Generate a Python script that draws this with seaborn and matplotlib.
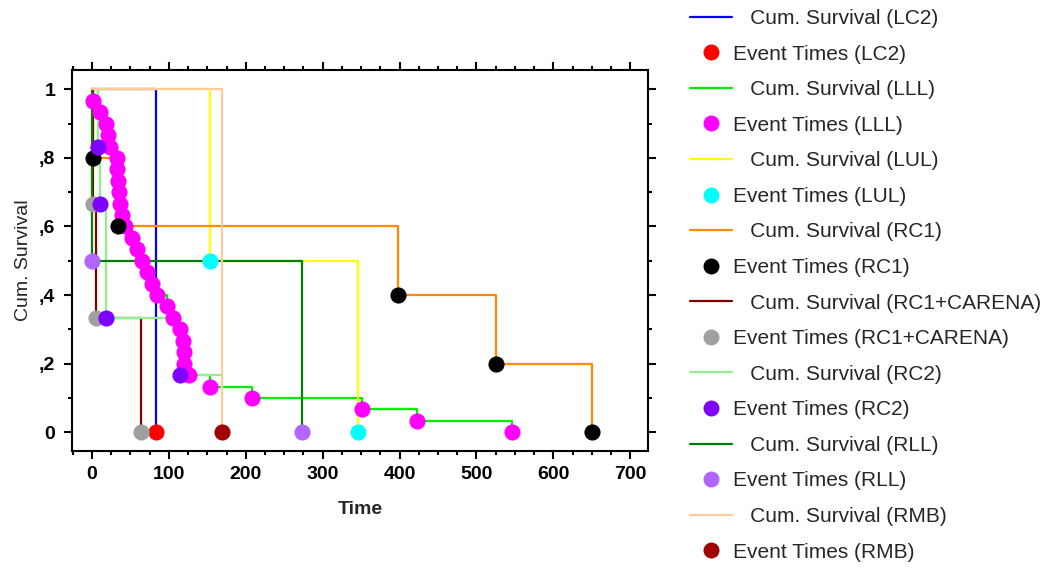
import seaborn as sns
import pandas as pd
from matplotlib import pyplot as plt
from matplotlib.lines import Line2D
from matplotlib.ticker import MultipleLocator, FixedLocator, FixedFormatter

# groups in legend order
groups = ["LC2", "LLL", "LUL", "RC1", "RC1+CARENA", "RC2", "RLL", "RMB"]

# event times and survival after each event
lc2_times = [83]
lc2_surv = [0.0]

lll_times = [2, 11, 18, 21, 24, 33, 33, 34, 35, 37, 39, 43, 52, 58, 65, 72, 78, 84,
             97, 106, 115, 119, 120, 120, 126, 153, 208, 351, 423, 546]
lll_surv = [0.967, 0.933, 0.9, 0.867, 0.833, 0.8, 0.767, 0.733, 0.7, 0.667,
            0.633, 0.6, 0.567, 0.533, 0.5, 0.467, 0.433, 0.4, 0.367, 0.333,
            0.3, 0.267, 0.233, 0.2, 0.167, 0.133, 0.1, 0.067, 0.033, 0.0]

lul_times = [153, 346]
lul_surv = [0.5, 0.0]

rc1_times = [2, 34, 398, 525, 650]
rc1_surv = [0.8, 0.6, 0.4, 0.2, 0.0]

carena_times = [1, 5, 64]
carena_surv = [0.667, 0.333, 0.0]

rc2_times = [8, 10, 18, 115]
rc2_surv = [0.833, 0.667, 0.333, 0.167]
rc2_end = 169  # last case censored

rll_times = [0, 273]
rll_surv = [0.5, 0.0]

rmb_times = [169]
rmb_surv = [0.0]

line_colors = ["#0000FF", "#00EE00", "#FFFF00", "#FF8C00", "#800000", "#90F090", "#008000", "#FFCC99"]
point_colors = ["#FF0000", "#FF00FF", "#00FFFF", "#000000", "#A0A0A0", "#8000FF", "#B066FF", "#A00000"]

y_ticks = [0, 0.2, 0.4, 0.6, 0.8, 1.0]
y_ticklabels = ["0", ",2", ",4", ",6", ",8", "1"]

all_times = [lc2_times, lll_times, lul_times, rc1_times, carena_times, rc2_times, rll_times, rmb_times]
all_surv = [lc2_surv, lll_surv, lul_surv, rc1_surv, carena_surv, rc2_surv, rll_surv, rmb_surv]
end_times = [None, None, None, None, None, rc2_end, None, None]

sns.set_style("ticks")
plt.rcParams["font.family"] = ["Liberation Sans", "DejaVu Sans"]

fig = plt.figure(figsize=(10.46, 5.68), dpi=100)
ax = fig.add_axes([0.0688, 0.206, 0.5507, 0.671])

for g, t, s, end, lc, pc in zip(groups, all_times, all_surv, end_times, line_colors, point_colors):
    xs = [0] + list(t)
    ys = [1.0] + list(s)
    if end is not None:
        xs.append(end)
        ys.append(s[-1])
    steps = pd.DataFrame({"Time": xs, "Survival": ys})
    sns.lineplot(data=steps, x="Time", y="Survival", drawstyle="steps-post", sort=False,
                 estimator=None, color=lc, lw=1.6, ax=ax, legend=False)
    events = pd.DataFrame({"Time": t, "Survival": s})
    sns.scatterplot(data=events, x="Time", y="Survival", color=pc, s=135, linewidth=0,
                    ax=ax, legend=False, zorder=3)

ax.set_xlim(-26, 723)
ax.set_ylim(-0.055, 1.057)
ax.xaxis.set_major_locator(MultipleLocator(100))
ax.xaxis.set_minor_locator(MultipleLocator(25))
ax.yaxis.set_major_locator(FixedLocator(y_ticks))
ax.yaxis.set_major_formatter(FixedFormatter(y_ticklabels))
ax.yaxis.set_minor_locator(MultipleLocator(0.1))
ax.tick_params(which="both", direction="out", top=True, right=True, labeltop=False,
               labelright=False, width=1.5, colors="black")
ax.tick_params(which="major", length=6, labelsize=14)
ax.tick_params(which="minor", length=3)
ax.tick_params(axis="x", which="major", pad=5)
ax.tick_params(axis="y", which="major", pad=6)
for lab in ax.get_xticklabels() + ax.get_yticklabels():
    lab.set_fontweight("bold")
for sp in ax.spines.values():
    sp.set_linewidth(1.5)
    sp.set_color("black")
ax.set_xlabel("Time", fontsize=14, fontweight="bold", labelpad=13)
ax.set_ylabel("Cum. Survival", fontsize=14, labelpad=5)

handles, labels = [], []
for g, lc, pc in zip(groups, line_colors, point_colors):
    handles.append(Line2D([], [], color=lc, lw=1.6))
    labels.append("   Cum. Survival (" + g + ")")
    handles.append(Line2D([], [], color=pc, marker="o", ls="none", markersize=11.5, markeredgewidth=0))
    labels.append("Event Times (" + g + ")")
fig.legend(handles, labels, loc="upper left", bbox_to_anchor=(0.6596, 0.984), frameon=False,
           fontsize=15, borderaxespad=0, borderpad=0, handlelength=2.0, handletextpad=0.05,
           labelspacing=0.795)

fig.savefig("out.png", dpi=100, facecolor="white")
